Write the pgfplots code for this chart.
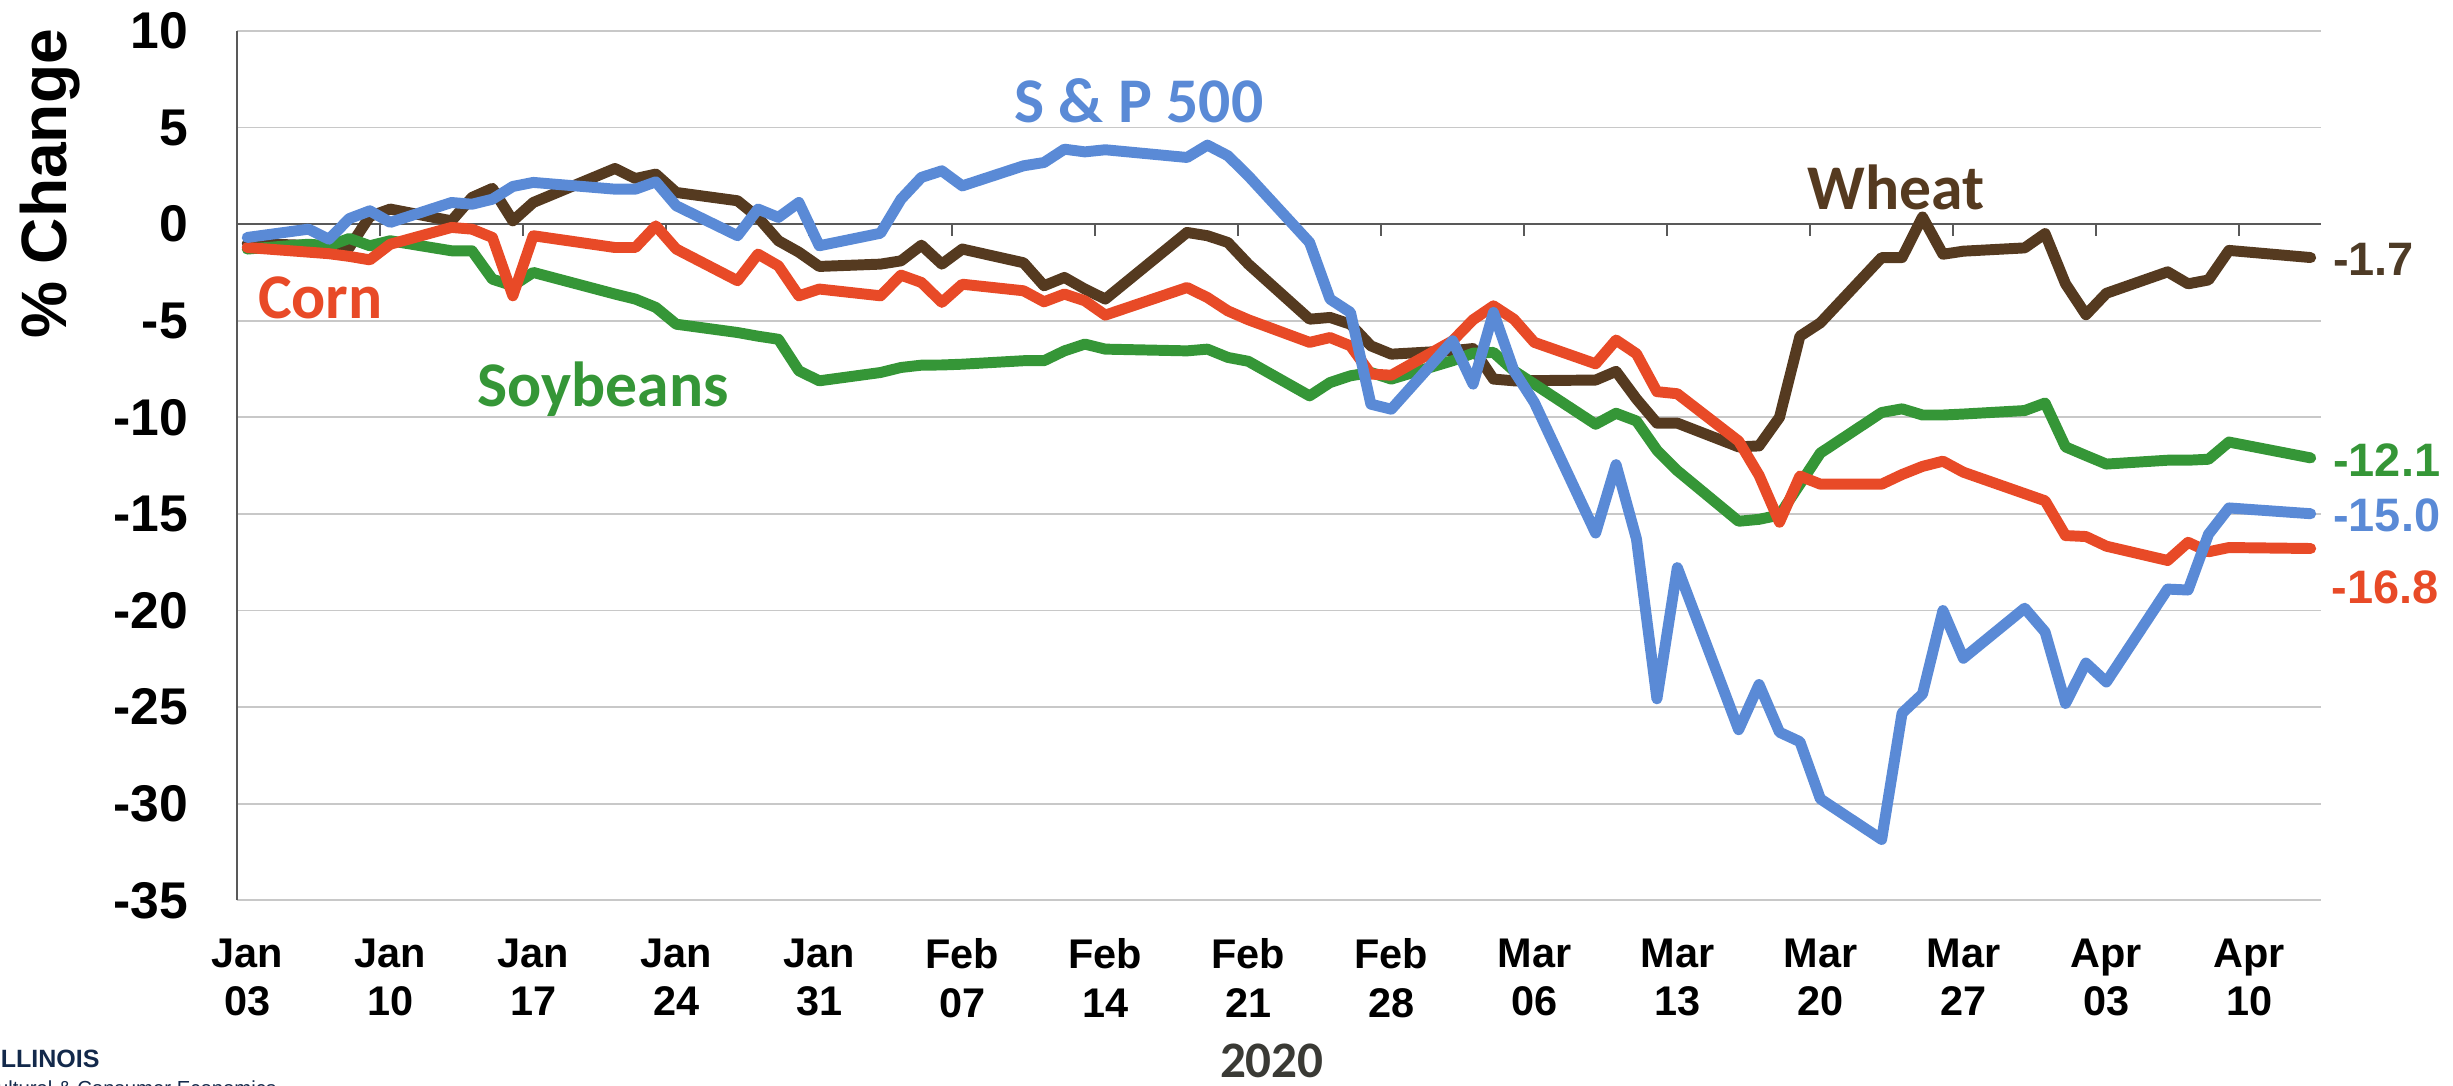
\documentclass[border=0pt]{standalone}
\usepackage{fontspec}
\setmainfont{Liberation Sans}
\newfontfamily\calibri{Carlito}
\usepackage{pgfplots}
\usepackage{pgfplotstable}
\pgfplotsset{compat=1.18}

\definecolor{spblue}{HTML}{5A8AD6}
\definecolor{cornred}{HTML}{E84A27}
\definecolor{soygreen}{HTML}{359637}
\definecolor{wheatbrown}{HTML}{553A20}
\definecolor{wheatlabel}{HTML}{4E3B26}
\definecolor{gridgray}{HTML}{C8C8C8}
\definecolor{axisgray}{HTML}{595959}
\definecolor{yeargray}{HTML}{3A3A35}
\definecolor{illinavy}{HTML}{13294B}

% % change since the start of 2020; day = days after Jan 03
\pgfplotstableread{
day   sp      wheat   corn    soy
0     -0.69   -1.00   -1.21   -1.29
3     -0.26   -1.10   -1.45   -1.04
4     -0.78   -1.30   -1.53   -1.12
5      0.29   -1.20   -1.67   -0.74
6      0.69    0.40   -1.85   -1.12
7      0.09    0.78   -1.04   -0.86
10     1.12    0.17   -0.17   -1.38
11     1.03    1.38   -0.26   -1.38
12     1.29    1.85   -0.69   -2.85
13     1.95    0.17   -3.71   -3.19
14     2.16    1.12   -0.60   -2.50
18     1.81    2.88   -1.21   -3.62
19     1.81    2.36   -1.21   -3.88
20     2.19    2.59   -0.09   -4.31
21     0.95    1.64   -1.29   -5.18
24    -0.60    1.21   -2.93   -5.61
25     0.78    0.35   -1.55   -5.80
26     0.35   -0.86   -2.16   -5.96
27     1.12   -1.45   -3.71   -7.59
28    -1.12   -2.19   -3.36   -8.11
31    -0.47   -2.07   -3.71   -7.68
32     1.29   -1.90   -2.64   -7.42
33     2.42   -1.09   -3.02   -7.30
34     2.76   -2.07   -4.05   -7.29
35     1.98   -1.29   -3.11   -7.25
38     3.02   -2.00   -3.45   -7.07
39     3.19   -3.19   -4.02   -7.07
40     3.88   -2.76   -3.62   -6.56
41     3.74   -3.36   -3.97   -6.21
42     3.85   -3.88   -4.71   -6.47
46     3.45   -0.43   -3.28   -6.56
47     4.09   -0.60   -3.80   -6.47
48     3.54   -0.95   -4.49   -6.90
49     2.50   -2.07   -4.95   -7.10
52    -0.95   -4.92   -6.12   -8.89
53    -3.88   -4.83   -5.87   -8.20
54    -4.57   -5.18   -6.30   -7.85
55    -9.32   -6.30   -7.76   -7.68
56    -9.58   -6.73   -7.82   -8.02
59    -6.04   -6.55   -6.04   -7.07
60    -8.28   -6.44   -4.95   -6.68
61    -4.57   -8.02   -4.23   -6.64
62    -7.59   -8.11   -4.92   -7.59
63    -9.23   -8.10   -6.12   -8.28
66   -15.99   -8.07   -7.23  -10.36
67   -12.45   -7.62   -6.00   -9.79
68   -16.30   -9.05   -6.71  -10.19
69   -24.57  -10.30   -8.67  -11.70
70   -17.78  -10.30   -8.78  -12.76
73   -26.17  -11.53  -11.23  -15.38
74   -23.83  -11.48  -13.00  -15.28
75   -26.30  -10.00  -15.43  -15.06
76   -26.79   -5.80  -13.04  -13.46
77   -29.75   -5.11  -13.46  -11.85
80   -31.85   -1.73  -13.46   -9.75
81   -25.31   -1.73  -12.96   -9.56
82   -24.32    0.37  -12.54   -9.88
83   -20.00   -1.56  -12.27   -9.88
84   -22.47   -1.40  -12.84   -9.83
87   -19.88   -1.23  -13.95   -9.65
88   -21.11   -0.49  -14.32   -9.26
89   -24.81   -3.09  -16.12  -11.53
90   -22.72   -4.69  -16.17  -11.98
91   -23.70   -3.58  -16.67  -12.42
94   -18.89   -2.47  -17.41  -12.22
95   -18.94   -3.09  -16.47  -12.22
96   -16.05   -2.89  -16.96  -12.17
97   -14.69   -1.36  -16.74  -11.28
101  -14.99   -1.73  -16.79  -12.10
}\prices

\begin{document}
\begin{tikzpicture}[x=0.5bp, y=0.5bp]
\begin{axis}[
  at={(75.75bp,59.25bp)}, anchor=south west,
  scale only axis, width=666bp, height=277.85bp,
  xmin=-0.5, xmax=101.5, ymin=-35, ymax=10,
  xtick={0,7,...,98},
  xticklabels={{Jan\\03},{Jan\\10},{Jan\\17},{Jan\\24},{Jan\\31},{Feb\\07},{Feb\\14},
    {Feb\\21},{Feb\\28},{Mar\\06},{Mar\\13},{Mar\\20},{Mar\\27},{Apr\\03},{Apr\\10}},
  ytick={-35,-30,...,10},
  yticklabels={-35,-30,-25,-20,-15,-10,-5,0,5,10},
  major tick length=0pt,
  axis x line*=bottom, axis y line*=left,
  x axis line style={draw=none},
  y axis line style={draw=axisgray, line width=0.65bp, -},
  ymajorgrids, grid style={draw=gridgray, line width=0.55bp},
  extra y ticks={0}, extra y tick labels={},
  extra y tick style={grid style={draw=axisgray, line width=0.7bp}},
  xticklabel style={font=\fontsize{13.25bp}{15.45bp}\selectfont\bfseries,
    align=center, anchor=north, inner sep=0pt, yshift=-12.1bp},
  yticklabel style={font=\fontsize{16.5bp}{16.5bp}\selectfont\bfseries,
    anchor=east, inner sep=0pt, xshift=-15.5bp},
  clip=false,
  every axis plot/.append style={line width=3.5bp, line join=round, line cap=round},
]
% weekly tick marks hanging from the zero line
\pgfplotsinvokeforeach{6.5,13.5,20.5,27.5,34.5,41.5,48.5,55.5,62.5,69.5,76.5,83.5,90.5,97.5}{
  \draw[draw=axisgray, line width=0.65bp] (axis cs:#1,0) -- ([yshift=-3.9bp]axis cs:#1,0);
}
\addplot[wheatbrown] table[x=day, y=wheat] {\prices};
\addplot[soygreen] table[x=day, y=soy] {\prices};
\addplot[cornred] table[x=day, y=corn] {\prices};
\addplot[spblue] table[x=day, y=sp] {\prices};
\end{axis}

% series names
\begin{scope}[every node/.style={inner sep=0pt, anchor=base}]
\node[font=\calibri\bfseries\fontsize{20.35bp}{20.35bp}\selectfont, text=spblue] at (728,615.6) {S \& P 500};
\node[font=\calibri\bfseries\fontsize{20.35bp}{20.35bp}\selectfont, text=wheatbrown] at (1212,559.8) {Wheat};
\node[font=\calibri\bfseries\fontsize{20.35bp}{20.35bp}\selectfont, text=cornred] at (204.8,490.5) {Corn};
\node[font=\calibri\bfseries\fontsize{20.35bp}{20.35bp}\selectfont, text=soygreen] at (385.4,434) {Soybeans};
\end{scope}

% last values
\begin{scope}[every node/.style={inner sep=0pt, anchor=base west, font=\fontsize{15bp}{15bp}\selectfont\bfseries}]
\node[text=wheatlabel] at (1491,518.2) {-1.7};
\node[text=soygreen] at (1491,389.3) {-12.1};
\node[text=spblue] at (1491,354.1) {-15.0};
\node[text=cornred] at (1490,308.3) {-16.8};
\end{scope}

\node[rotate=90, anchor=base, inner sep=0pt, font=\fontsize{20.5bp}{20.5bp}\selectfont\bfseries] at (42.8,576.4) {\% Change};
\node[anchor=base, inner sep=0pt, text=yeargray, font=\calibri\bfseries\fontsize{16.35bp}{16.35bp}\selectfont] at (813,5.5) {2020};
\node[anchor=base east, inner sep=0pt, text=illinavy, font=\fontsize{8bp}{8bp}\selectfont\bfseries] at (64,11.8) {ILLINOIS};
\node[anchor=base east, inner sep=0pt, text=illinavy, font=\fontsize{6.5bp}{6.5bp}\selectfont] at (177,-6) {Agricultural \& Consumer Economics};

\pgfresetboundingbox
\useasboundingbox (0,0) rectangle (1568,694);
\end{tikzpicture}
\end{document}
